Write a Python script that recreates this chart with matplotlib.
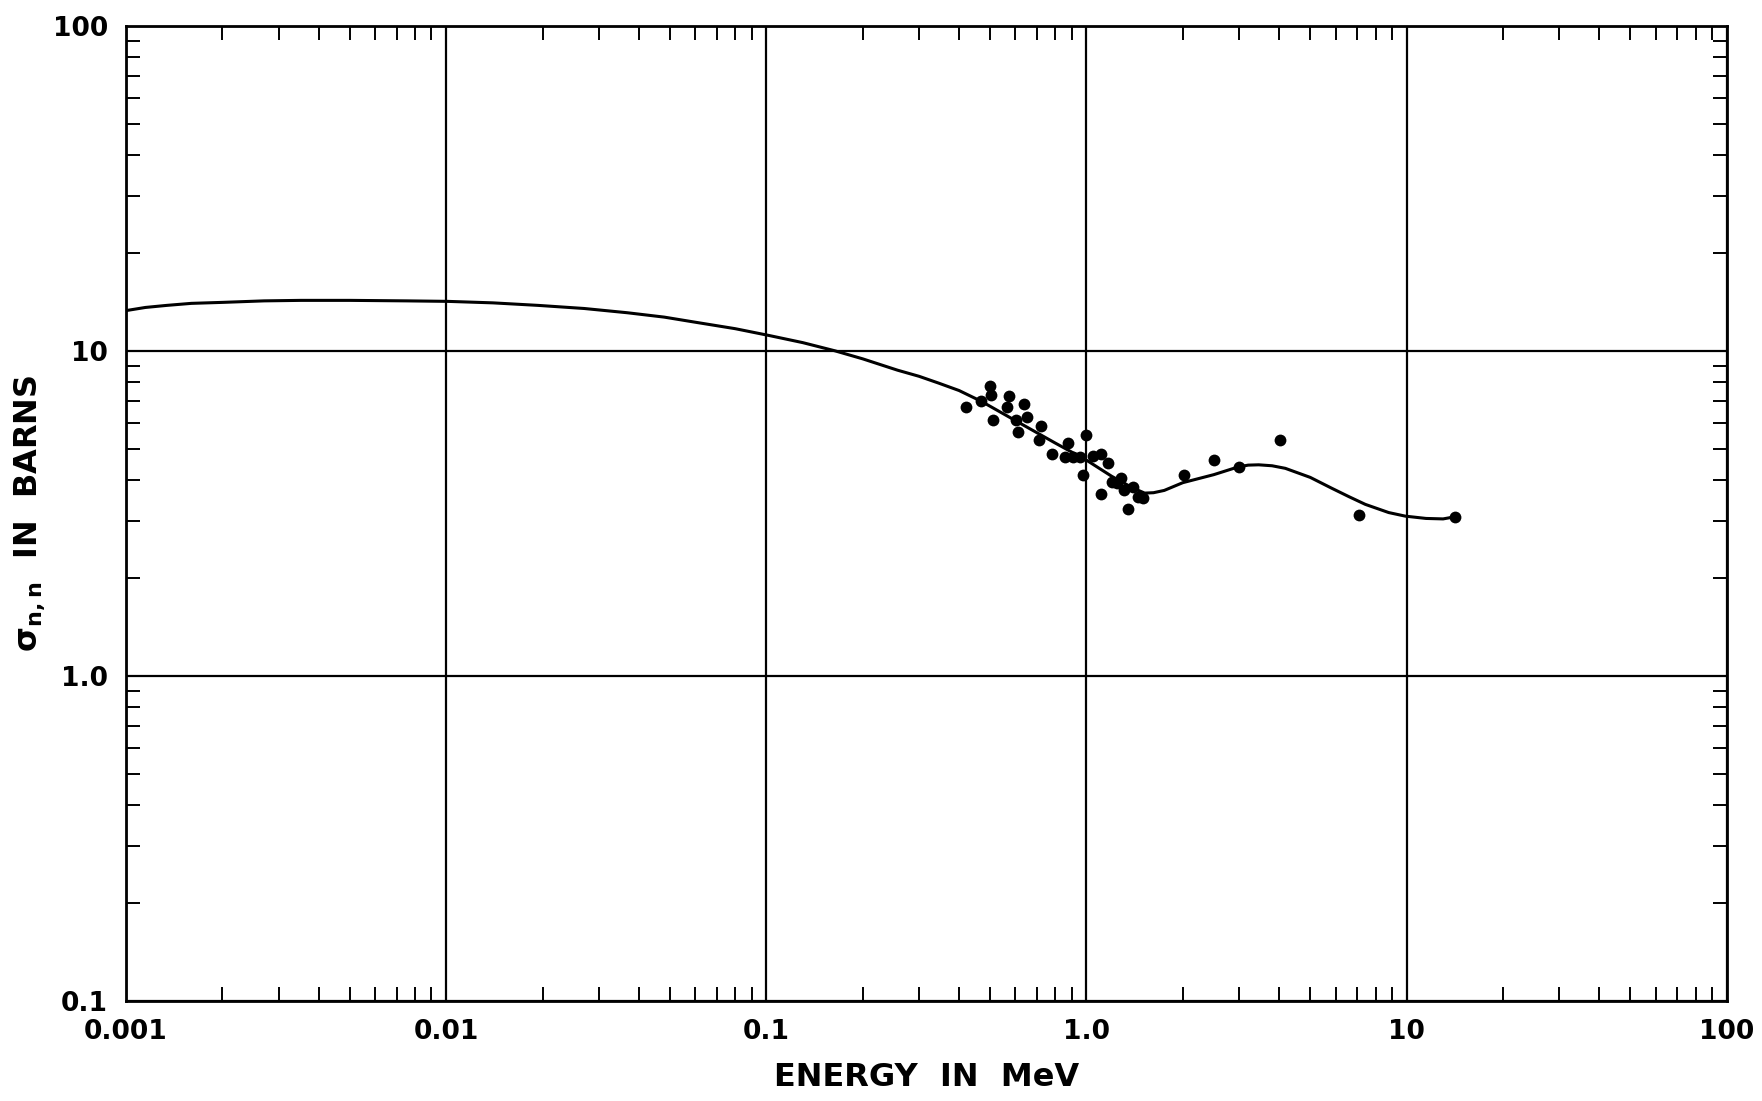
import matplotlib
matplotlib.use("Agg")
import matplotlib.pyplot as plt
from matplotlib.ticker import LogLocator, FixedLocator, NullFormatter

plt.rcParams['font.family'] = ['DejaVu Sans']
plt.rcParams['mathtext.fontset'] = 'dejavusans'

# --------------------------------------------------
# data
# --------------------------------------------------

# measured points (energy in MeV, cross section in barns)
pt_energy = [0.42, 0.469, 0.50, 0.504, 0.51, 0.573, 0.565, 0.638, 0.601,
             0.652, 0.611, 0.721, 0.71, 0.782, 0.873, 0.857, 0.91, 0.955,
             1.0, 0.975, 1.05, 1.11, 1.17, 1.11, 1.20, 1.28, 1.25, 1.31,
             1.40, 1.35, 1.45, 1.50, 2.01, 2.50, 2.99, 4.02, 7.08, 14.2]
pt_sigma = [6.72, 6.99, 7.79, 7.29, 6.12, 7.27, 6.74, 6.85, 6.14,
            6.26, 5.64, 5.87, 5.33, 4.81, 5.21, 4.70, 4.70, 4.70,
            5.50, 4.14, 4.76, 4.80, 4.51, 3.62, 3.96, 4.06, 3.93, 3.74,
            3.82, 3.27, 3.54, 3.53, 4.14, 4.61, 4.39, 5.31, 3.13, 3.08]

# evaluated curve
curve_energy = [0.001, 0.00115, 0.00134, 0.0016, 0.00201, 0.0027, 0.00352,
                0.005, 0.0075, 0.0101, 0.014, 0.0194, 0.027, 0.0368, 0.048,
                0.060, 0.08, 0.102, 0.13, 0.164, 0.2, 0.257, 0.3, 0.345,
                0.4, 0.47, 0.6, 0.8, 1.0, 1.20, 1.40, 1.52, 1.62, 1.75,
                2.0, 2.5, 2.97, 3.2, 3.45, 3.8, 4.18, 5.0, 5.83, 6.6, 7.43,
                8.79, 9.91, 11.5, 13.0, 14.0]
curve_sigma = [13.3, 13.6, 13.8, 14.0, 14.1, 14.25, 14.3,
               14.3, 14.25, 14.2, 14.05, 13.8, 13.5, 13.1, 12.7,
               12.25, 11.7, 11.15, 10.6, 10.0, 9.45, 8.72, 8.35, 7.96,
               7.55, 6.99, 6.1, 5.2, 4.61, 4.11, 3.78, 3.65, 3.66, 3.72,
               3.93, 4.16, 4.39, 4.45, 4.46, 4.43, 4.35, 4.08, 3.78, 3.56, 3.37,
               3.18, 3.10, 3.05, 3.04, 3.08]

x_ticks = [0.001, 0.01, 0.1, 1.0, 10, 100]
x_labels = ["0.001", "0.01", "0.1", "1.0", "10", "100"]
y_ticks = [0.1, 1.0, 10, 100]
y_labels = ["0.1", "1.0", "10", "100"]

# --------------------------------------------------
# plot
# --------------------------------------------------

fig = plt.figure(figsize=(17.62, 11.01), dpi=100)
ax = fig.add_axes([0.0715, 0.091, 0.9085, 0.8855])

ax.plot(curve_energy, curve_sigma, color="black", lw=2.2)
ax.plot(pt_energy, pt_sigma, "o", color="black", ms=8.5, mew=0)

ax.set_xscale("log")
ax.set_yscale("log")
ax.set_xlim(0.001, 100)
ax.set_ylim(0.1, 100)

ax.xaxis.set_major_locator(FixedLocator(x_ticks))
ax.yaxis.set_major_locator(FixedLocator(y_ticks))
ax.set_xticklabels(x_labels)
ax.set_yticklabels(y_labels)
ax.xaxis.set_minor_locator(LogLocator(base=10, subs=range(2, 10), numticks=20))
ax.yaxis.set_minor_locator(LogLocator(base=10, subs=range(2, 10), numticks=20))
ax.xaxis.set_minor_formatter(NullFormatter())
ax.yaxis.set_minor_formatter(NullFormatter())

ax.grid(True, which="major", color="black", lw=1.6)

ax.tick_params(which="both", direction="in", top=True, right=True,
               color="black")
ax.tick_params(which="major", length=0, pad=13, labelsize=19)
ax.tick_params(which="minor", length=10, width=1.4)
for lab in ax.get_xticklabels() + ax.get_yticklabels():
    lab.set_fontweight("bold")

for s in ax.spines.values():
    s.set_linewidth(2)
    s.set_color("black")

ax.set_xlabel("ENERGY  IN  MeV", fontsize=23, fontweight="bold", labelpad=12)
ax.set_ylabel(r"$\mathbf{\sigma_{n,n}}$  IN  BARNS", fontsize=23,
              fontweight="bold", labelpad=4)

fig.savefig("out.png", dpi=100, facecolor="white")
